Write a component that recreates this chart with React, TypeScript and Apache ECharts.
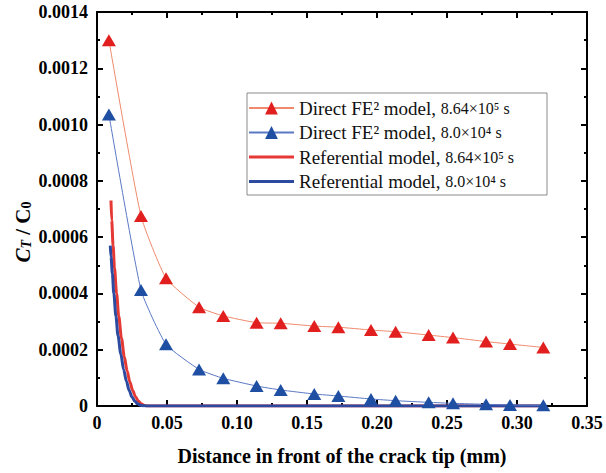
import React, { useEffect, useRef } from "react";
import * as echarts from "echarts";

const xDirect = [0.0085, 0.0314, 0.0493, 0.0729, 0.0902, 0.114, 0.1312, 0.1552, 0.1724, 0.1957, 0.2133, 0.2369, 0.2543, 0.2779, 0.295, 0.3188];
const redDirect = [0.0013, 0.000675, 0.000454, 0.000351, 0.00032, 0.000296, 0.000294, 0.000284, 0.00028, 0.00027, 0.000264, 0.000252, 0.000243, 0.000229, 0.00022, 0.000208];
const blueDirect = [0.001036, 0.000412, 0.000219, 0.00013, 0.0000983, 0.000071, 0.0000569, 0.0000426, 0.0000355, 0.0000249, 0.0000189, 0.000013, 0.0000095, 0.000006, 0.0000035, 0.0000025];

const xRefRed = [0.01, 0.0105, 0.0115, 0.0125, 0.014, 0.0155, 0.0175, 0.0195, 0.0215, 0.0235, 0.0255, 0.0275, 0.0295, 0.0315, 0.0335, 0.036, 0.32];
const yRefRed = [0.00073, 0.00066, 0.00057, 0.00049, 0.0004, 0.00032, 0.00024, 0.000175, 0.000125, 0.000085, 0.000055, 0.000033, 0.000018, 0.000008, 0.000003, 0, 0];
const xRefBlue = [0.0095, 0.01, 0.011, 0.012, 0.0135, 0.015, 0.017, 0.019, 0.021, 0.023, 0.025, 0.027, 0.029, 0.031, 0.033, 0.035, 0.32];
const yRefBlue = [0.00057, 0.00053, 0.00047, 0.0004, 0.00032, 0.00025, 0.000185, 0.00013, 0.000088, 0.000055, 0.000032, 0.000017, 0.000008, 0.000003, 0.000001, 0, 0];

const seriesNames = [
  "Direct FE2 model, 8.64e5 s",
  "Direct FE2 model, 8.0e4 s",
  "Referential model, 8.64e5 s",
  "Referential model, 8.0e4 s",
];
const legendTexts = [
  "{a|Direct FE² model, }{b|8.64×10⁵ s}",
  "{a|Direct FE² model, }{b|8.0×10⁴ s}",
  "{a|Referential model, }{b|8.64×10⁵ s}",
  "{a|Referential model, }{b|8.0×10⁴ s}",
];

const zip = (xs: number[], ys: number[]) => xs.map((x, i) => [x, ys[i]]);

const FONT = "Liberation Serif";
const BAR_ICON = "path://M0,0H45V3H0Z";

export default function App() {
  const ref = useRef<HTMLDivElement>(null);
  useEffect(() => {
    if (!ref.current) return;
    const chart = echarts.init(ref.current, undefined, { renderer: "svg" });
    const axisCommon = {
      axisLine: { show: true, onZero: false, lineStyle: { color: "#000", width: 2 } },
      axisTick: { show: true, inside: true, length: 6, lineStyle: { color: "#000", width: 2 } },
      minorTick: { show: true, splitNumber: 2, length: 3, lineStyle: { color: "#000", width: 2 } },
      splitLine: { show: false },
    };
    chart.setOption({
      animation: false,
      backgroundColor: "#fff",
      grid: { left: 97, right: 19, top: 12, bottom: 67 },
      xAxis: [
        {
          type: "value",
          min: 0,
          max: 0.35,
          interval: 0.05,
          ...axisCommon,
          axisLabel: {
            color: "#000",
            fontFamily: FONT,
            fontWeight: "bold",
            fontSize: 18,
            margin: 8,
            formatter: (v: number) => (v === 0 ? "0" : v.toFixed(2)),
          },
          name: "Distance in front of the crack tip (mm)",
          nameLocation: "middle",
          nameGap: 40,
          nameTextStyle: { color: "#000", fontFamily: FONT, fontWeight: "bold", fontSize: 20 },
        },
        {
          type: "value",
          position: "top",
          min: 0,
          max: 0.35,
          interval: 0.05,
          ...axisCommon,
          axisLabel: { show: false },
        },
      ],
      yAxis: [
        {
          type: "value",
          min: 0,
          max: 0.0014,
          interval: 0.0002,
          ...axisCommon,
          axisLabel: {
            color: "#000",
            fontFamily: FONT,
            fontWeight: "bold",
            fontSize: 18,
            margin: 9,
            formatter: (v: number) => (v === 0 ? "0" : v.toFixed(4)),
          },
        },
        {
          type: "value",
          position: "right",
          min: 0,
          max: 0.0014,
          interval: 0.0002,
          ...axisCommon,
          axisLabel: { show: false },
        },
      ],
      legend: {
        orient: "vertical",
        left: 247,
        top: 93,
        z: 10,
        data: [
          { name: seriesNames[0] },
          { name: seriesNames[1] },
          { name: seriesNames[2], icon: BAR_ICON },
          { name: seriesNames[3], icon: BAR_ICON },
        ],
        itemWidth: 45,
        itemHeight: 16,
        itemGap: 4.5,
        padding: [5, 4, 3, 1],
        formatter: (name: string) => legendTexts[seriesNames.indexOf(name)],
        textStyle: {
          color: "#111",
          fontFamily: FONT,
          lineHeight: 20,
          rich: {
            a: { fontFamily: FONT, fontSize: 19, color: "#111", lineHeight: 20 },
            b: { fontFamily: FONT, fontSize: 16, color: "#111", lineHeight: 20 },
          },
        },
      },
      graphic: [
        {
          type: "rect",
          z: 5,
          shape: { x: 247, y: 93, width: 300, height: 102 },
          style: { fill: "#fff", stroke: "#8a8a8a", lineWidth: 1 },
        },
        {
          type: "text",
          x: 21,
          y: 232,
          rotation: Math.PI / 2,
          style: {
            text: "{i|C}{is|T}{n| / }{b|C}{bs|0}",
            align: "center",
            verticalAlign: "middle",
            fill: "#000",
            rich: {
              i: { fontFamily: FONT, fontStyle: "italic", fontWeight: "bold", fontSize: 21, lineHeight: 24, verticalAlign: "bottom" },
              is: { fontFamily: FONT, fontStyle: "italic", fontWeight: "bold", fontSize: 14, lineHeight: 18, verticalAlign: "bottom" },
              n: { fontFamily: FONT, fontWeight: "bold", fontSize: 21, lineHeight: 24, verticalAlign: "bottom" },
              b: { fontFamily: FONT, fontWeight: "bold", fontSize: 21, lineHeight: 24, verticalAlign: "bottom" },
              bs: { fontFamily: FONT, fontWeight: "bold", fontSize: 14, lineHeight: 18, verticalAlign: "bottom" },
            },
          },
        },
      ],
      series: [
        {
          name: seriesNames[0],
          type: "line",
          data: zip(xDirect, redDirect),
          symbol: "triangle",
          symbolSize: [14, 12],
          itemStyle: { color: "#e21f1f" },
          lineStyle: { color: "#ef8a6c", width: 1 },
          smooth: 0.15,
          z: 3,
        },
        {
          name: seriesNames[1],
          type: "line",
          data: zip(xDirect, blueDirect),
          symbol: "triangle",
          symbolSize: [14, 12],
          itemStyle: { color: "#1f4fa3" },
          lineStyle: { color: "#5a78c4", width: 1 },
          smooth: 0.15,
          z: 3,
        },
        {
          name: seriesNames[2],
          type: "line",
          data: zip(xRefRed, yRefRed),
          symbol: "none",
          showSymbol: false,
          itemStyle: { color: "#e53935" },
          lineStyle: { color: "#e53935", width: 3 },
          smooth: 0.3,
          smoothMonotone: "x",
          z: 2,
        },
        {
          name: seriesNames[3],
          type: "line",
          data: zip(xRefBlue, yRefBlue),
          symbol: "none",
          showSymbol: false,
          itemStyle: { color: "#2b4aa0" },
          lineStyle: { color: "#2b4aa0", width: 3 },
          smooth: 0.3,
          smoothMonotone: "x",
          z: 2,
        },
      ],
    });
    return () => chart.dispose();
  }, []);
  return (
    <div
      ref={ref}
      style={{ position: "fixed", left: 0, top: 0, width: 606, height: 473, overflow: "hidden" }}
    />
  );
}
